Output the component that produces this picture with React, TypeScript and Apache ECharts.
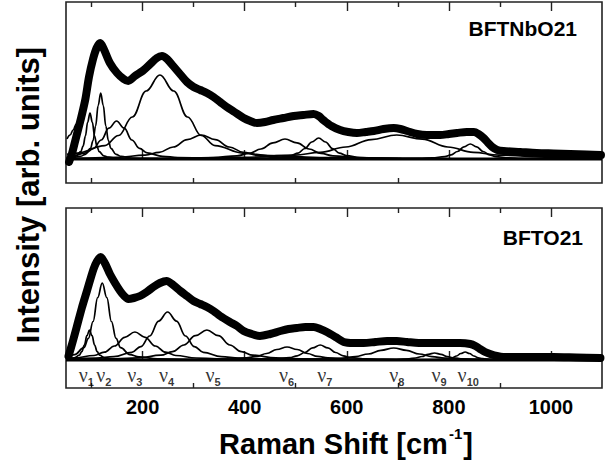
import React, { useEffect, useRef } from "react";
import * as echarts from "echarts";

const xMin = 50;
const xMax = 1100;
const majorTicks = [200, 400, 600, 800, 1000];
const minorTicks = [100, 300, 500, 700, 900];
const panelNames = ["BFTNbO21", "BFTO21"];
const xTitleMain = "Raman Shift [cm";
const xTitleSup = "-1";
const yTitle = "Intensity [arb. units]";

// measured spectrum, top panel (BFTNbO21)
const topData: number[][] = [
  [56, -3], [62, 6], [68, 18], [74, 30], [80, 42], [88, 60], [95, 82], [103, 100], [110, 111],
  [117, 116], [124, 110], [136, 96], [150, 86], [163, 80], [172, 78], [185, 83], [200, 88],
  [215, 95], [228, 101], [238, 103], [248, 100], [260, 93], [275, 84], [287, 77], [300, 72],
  [313, 69], [326, 66], [339, 62], [352, 57], [365, 52], [380, 47], [398, 41], [411, 38],
  [424, 36], [440, 37], [456, 39], [476, 41], [496, 43], [515, 44], [535, 45], [545, 43],
  [554, 39], [570, 33], [587, 29], [603, 27], [620, 26], [637, 27], [653, 28], [672, 30],
  [692, 31], [705, 30], [718, 28], [738, 25], [757, 24], [783, 24], [800, 25], [816, 26],
  [835, 27], [849, 27], [858, 25], [868, 21], [877, 16], [885, 12], [895, 9], [907, 8],
  [940, 7], [972, 6], [1005, 5.5], [1038, 5], [1070, 4.5], [1098, 4],
];

// start of the summed fit, top panel
const topFitStart = [[52, 20], [58, 24], [64, 29], [70, 35], [76, 40]];

// fitted components, top panel
const topNu1 = [[52, 1.1], [61, 1.8], [70, 3.2], [79, 7.4], [83.5, 12.9], [88, 23], [92.5, 37], [97, 46], [101.5, 37], [106, 23], [110.5, 12.9], [115, 7.4], [124, 3.2], [133, 1.8], [151, 0.7], [200, 0.2]];
const topNu2 = [[54, 0.8], [58, 1.0], [78, 2.6], [88, 4.6], [98, 10.6], [103, 18.5], [108, 33], [113, 53.5], [118, 66], [123, 53.5], [128, 33], [133, 18.5], [138, 10.6], [148, 4.6], [158, 2.6], [178, 1.0], [230, 0.3]];
const topNu3 = [[52, 2.2], [59, 2.7], [89, 6.1], [104, 10.6], [119, 19], [134, 30.8], [149, 38], [164, 30.8], [179, 19], [194, 10.6], [209, 6.1], [239, 2.7], [269, 1.5], [329, 0.6], [450, 0.2]];
const topNu4 = [[52, 4.6], [72, 5.9], [126, 13.4], [153, 23.5], [180, 42], [207, 68], [234, 84], [261, 68], [288, 42], [315, 23.5], [342, 13.4], [396, 5.9], [450, 3.4], [558, 1.3], [700, 0.5]];
const topNu5 = [[52, 0.6], [95, 1.0], [150, 1.7], [205, 3.8], [232.5, 6.7], [260, 12], [287.5, 19.4], [315, 24], [342.5, 19.4], [370, 12], [397.5, 6.7], [425, 3.8], [480, 1.7], [535, 1.0], [645, 0.4]];
const topNu6 = [[197, 0.3], [291, 0.8], [338, 1.4], [385, 3.2], [408.5, 5.6], [432, 10], [455.5, 16.2], [479, 20], [502.5, 16.2], [526, 10], [549.5, 5.6], [573, 3.2], [620, 1.4], [667, 0.8], [761, 0.3]];
const topNu7 = [[383, 0.3], [437, 0.8], [464, 1.5], [491, 3.4], [504.5, 5.9], [518, 10.5], [531.5, 17], [545, 21], [558.5, 17], [572, 10.5], [585.5, 5.9], [599, 3.4], [626, 1.5], [653, 0.8], [707, 0.3]];
const topNu8 = [[298, 1.0], [398, 1.7], [498, 3.8], [548, 6.7], [598, 12], [648, 19.4], [698, 24], [748, 19.8], [798, 12], [848, 6.7], [898, 3.8], [998, 1.7], [1098, 1.0]];
const topNu10 = [[692, 0.2], [742, 0.6], [767, 1.05], [792, 2.4], [804.5, 4.2], [817, 7.5], [829.5, 12.2], [842, 15], [854.5, 12.2], [867, 7.5], [879.5, 4.2], [892, 2.4], [917, 1.05], [942, 0.6], [992, 0.2]];
const topPeaks = [topNu1, topNu2, topNu3, topNu4, topNu5, topNu6, topNu7, topNu8, topNu10, topFitStart];

// measured spectrum, bottom panel (BFTO21)
const bottomData: number[][] = [
  [55, 4], [63, 18], [71, 33], [81, 52], [91, 69], [104, 91], [111, 99], [118, 103], [127, 96],
  [136, 86], [146, 77], [156, 69], [164, 64], [172, 61], [183, 62], [195, 64], [208, 68],
  [221, 73], [234, 77], [247, 79], [260, 75], [274, 69], [287, 64], [300, 59], [313, 56],
  [326, 53], [339, 49], [352, 44], [371, 38], [385, 34], [398, 29], [414, 26], [430, 24],
  [450, 26], [470, 29], [486, 31], [502, 32], [519, 33], [535, 33], [548, 31], [561, 28],
  [578, 23], [594, 18], [613, 17], [633, 17], [656, 18], [679, 19], [698, 19], [718, 18],
  [741, 17], [764, 17], [783, 17], [803, 17], [822, 17], [842, 16], [852, 14], [861, 11],
  [871, 8], [881, 6], [894, 4], [907, 3], [950, 3], [1005, 3], [1050, 2.5], [1097, 2],
];

// fitted components, bottom panel
const botNu1 = [[52, 1.0], [56, 1.2], [66, 2.1], [76, 4.8], [81, 8.4], [86, 15], [91, 24.3], [96, 30], [101, 24.3], [106, 15], [111, 8.4], [116, 4.8], [126, 2.1], [136, 1.2], [156, 0.45], [200, 0.1]];
const botNu2 = [[52, 3.0], [67, 5.4], [85, 12.3], [94, 21.6], [103, 38.5], [112, 62.4], [121, 77], [130, 62.4], [139, 38.5], [148, 21.6], [157, 12.3], [175, 5.4], [193, 3.1], [229, 1.2], [300, 0.3]];
const botNu3 = [[52, 1.6], [65, 2.0], [105, 4.5], [125, 7.8], [145, 14], [165, 22.7], [185, 28], [205, 22.7], [225, 14], [245, 7.8], [265, 4.5], [305, 2.0], [345, 1.1], [425, 0.4], [550, 0.1]];
const botNu4 = [[52, 1.0], [109, 1.9], [144, 3.4], [179, 7.7], [196.5, 13.4], [214, 24], [231.5, 38.9], [249, 48], [266.5, 38.9], [284, 24], [301.5, 13.4], [319, 7.7], [354, 3.4], [389, 1.9], [459, 0.7], [600, 0.2]];
const botNu5 = [[56, 0.45], [146, 1.2], [191, 2.1], [236, 4.8], [258.5, 8.4], [281, 15], [303.5, 24.3], [326, 30], [348.5, 24.3], [371, 15], [393.5, 8.4], [416, 4.8], [461, 2.1], [506, 1.2], [596, 0.45], [700, 0.1]];
const botNu6 = [[243, 0.2], [323, 0.5], [363, 0.9], [403, 2.1], [423, 3.6], [443, 6.5], [463, 10.5], [483, 13], [503, 10.5], [523, 6.5], [543, 3.6], [563, 2.1], [603, 0.9], [643, 0.5], [723, 0.2]];
const botNu7 = [[368, 0.2], [428, 0.6], [458, 1.05], [488, 2.4], [503, 4.2], [518, 7.5], [533, 12.2], [548, 15], [563, 12.2], [578, 7.5], [593, 4.2], [608, 2.4], [638, 1.05], [668, 0.6], [728, 0.2]];
const botNu8 = [[392, 0.2], [492, 0.5], [542, 0.85], [592, 1.9], [617, 3.4], [642, 6], [667, 9.7], [692, 12], [717, 9.7], [742, 6], [767, 3.4], [792, 1.9], [842, 0.85], [892, 0.5], [992, 0.2]];
const botNu9 = [[622, 0.1], [672, 0.3], [697, 0.5], [722, 1.1], [734.5, 2], [747, 3.5], [759.5, 5.7], [772, 7], [784.5, 5.7], [797, 3.5], [809.5, 2], [822, 1.1], [847, 0.5], [872, 0.3], [922, 0.1]];
const botNu10 = [[730, 0.1], [764, 0.3], [781, 0.56], [798, 1.3], [806.5, 2.2], [815, 4], [823.5, 6.5], [832, 8], [840.5, 6.5], [849, 4], [857.5, 2.2], [866, 1.3], [883, 0.56], [900, 0.3], [934, 0.1]];
const bottomPeaks = [botNu1, botNu2, botNu3, botNu4, botNu5, botNu6, botNu7, botNu8, botNu9, botNu10];

const baseline = [[50, 0], [1100, 0]];

// mode labels
const nuX = [90, 124, 185, 247, 338, 482, 557, 698, 781, 838];
const nuSub = ["1", "2", "3", "4", "5", "6", "7", "8", "9", "10"];
const nuLevel = -14;

const SANS = "'Liberation Sans', Arial, sans-serif";

function makeAxes(gridIndex: number, withLabels: boolean) {
  const base = {
    type: "value" as const,
    gridIndex,
    min: xMin,
    max: xMax,
    axisLine: { show: false },
    splitLine: { show: false },
  };
  const tick = (vals: number[], len: number) => ({
    show: true,
    inside: true,
    length: len,
    customValues: vals,
    lineStyle: { color: "#222", width: 1.4 },
  });
  return [
    {
      ...base,
      position: "bottom",
      axisTick: tick(majorTicks, 9),
      axisLabel: withLabels
        ? {
            show: true,
            customValues: majorTicks,
            formatter: (v: number) => String(v),
            fontSize: 20,
            fontWeight: "bold",
            fontFamily: SANS,
            color: "#000",
            margin: 9,
          }
        : { show: false },
    },
    { ...base, position: "bottom", axisTick: tick(minorTicks, 5), axisLabel: { show: false } },
    { ...base, position: "top", axisTick: tick(majorTicks, 9), axisLabel: { show: false } },
    { ...base, position: "top", axisTick: tick(minorTicks, 5), axisLabel: { show: false } },
  ];
}

export default function App() {
  const ref = useRef<HTMLDivElement>(null);
  useEffect(() => {
    if (!ref.current) return;
    const chart = echarts.init(ref.current, null, { renderer: "svg" });

    const series: any[] = [];
    const addPanel = (gi: number, data: number[][], peaks: number[][][]) => {
      const xi = gi * 4;
      peaks.forEach((p) => {
        series.push({
          type: "line",
          xAxisIndex: xi,
          yAxisIndex: gi,
          data: p,
          smooth: 0.4,
          smoothMonotone: "x",
          showSymbol: false,
          lineStyle: { color: "#000", width: 1.7 },
          z: 2,
        });
      });
      series.push({
        type: "line",
        xAxisIndex: xi,
        yAxisIndex: gi,
        data: baseline,
        showSymbol: false,
        lineStyle: { color: "#000", width: 3 },
        z: 3,
      });
      series.push({
        type: "line",
        xAxisIndex: xi,
        yAxisIndex: gi,
        data,
        smooth: 0.3,
        showSymbol: false,
        lineStyle: { color: "#000", width: 8, cap: "round", join: "round" },
        z: 4,
      });
    };
    addPanel(0, topData, topPeaks);
    addPanel(1, bottomData, bottomPeaks);

    series.push({
      type: "scatter",
      xAxisIndex: 4,
      yAxisIndex: 1,
      symbolSize: 0,
      data: nuX.map((x, i) => ({ value: [x, nuLevel], sub: nuSub[i] })),
      label: {
        show: true,
        position: "inside",
        formatter: (p: any) => `{g|ν}{s|${p.data.sub}}`,
        rich: {
          g: {
            fontSize: 20,
            fontFamily: "'Liberation Serif', 'DejaVu Serif', serif",
            color: "#000",
            lineHeight: 19,
            verticalAlign: "top",
          },
          s: {
            fontSize: 11,
            fontWeight: "bold",
            fontFamily: SANS,
            color: "#000",
            lineHeight: 11,
            padding: [12, 0, 0, 0],
            verticalAlign: "top",
          },
        },
      },
      z: 5,
    });

    chart.setOption({
      animation: false,
      backgroundColor: "#fff",
      grid: [
        { left: 66, top: 2, width: 536, height: 181, show: true, borderColor: "#222", borderWidth: 1.6, backgroundColor: "transparent" },
        { left: 66, top: 208, width: 536, height: 180, show: true, borderColor: "#222", borderWidth: 1.6, backgroundColor: "transparent" },
      ],
      xAxis: [...makeAxes(0, false), ...makeAxes(1, true)],
      yAxis: [
        { type: "value", gridIndex: 0, min: -24, max: 157, show: false },
        { type: "value", gridIndex: 1, min: -28, max: 152, show: false },
      ],
      series,
      graphic: [
        {
          type: "text",
          x: 577,
          y: 28,
          style: { text: panelNames[0], font: `bold 21px ${SANS}`, fill: "#000", align: "right", verticalAlign: "middle" },
        },
        {
          type: "text",
          x: 583,
          y: 237,
          style: { text: panelNames[1], font: `bold 21px ${SANS}`, fill: "#000", align: "right", verticalAlign: "middle" },
        },
        {
          type: "text",
          x: 28,
          y: 195,
          rotation: Math.PI / 2,
          style: { text: yTitle, font: `bold 31px ${SANS}`, fill: "#000", align: "center", verticalAlign: "middle" },
        },
        {
          type: "text",
          x: 346,
          y: 442,
          style: {
            text: `{a|${xTitleMain}}{b|${xTitleSup}}{a|]}`,
            align: "center",
            verticalAlign: "middle",
            rich: {
              a: { fontSize: 29, fontWeight: "bold", fontFamily: SANS, fill: "#000", lineHeight: 32, verticalAlign: "bottom" },
              b: { fontSize: 15, fontWeight: "bold", fontFamily: SANS, fill: "#000", lineHeight: 32, verticalAlign: "top", padding: [0, 1, 14, 1] },
            },
          },
        },
      ],
    });
    return () => chart.dispose();
  }, []);
  return (
    <div
      ref={ref}
      style={{ position: "fixed", left: 0, top: 0, width: 612, height: 465, background: "#fff" }}
    />
  );
}
